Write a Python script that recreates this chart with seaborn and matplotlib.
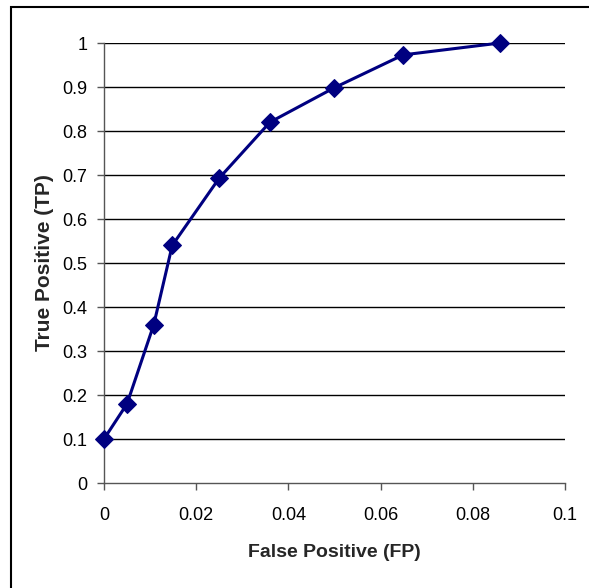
import pandas as pd
import numpy as np
import matplotlib
matplotlib.use("Agg")
import matplotlib.pyplot as plt
from matplotlib.patches import Rectangle
import seaborn as sns

# ROC points
false_pos = [0.0, 0.005, 0.0108, 0.0148, 0.025, 0.036, 0.0499, 0.0649, 0.0859]
true_pos = [0.10, 0.18, 0.36, 0.54, 0.693, 0.82, 0.898, 0.973, 1.0]
x_ticks = [0, 0.02, 0.04, 0.06, 0.08, 0.1]
y_ticks = [0, 0.1, 0.2, 0.3, 0.4, 0.5, 0.6, 0.7, 0.8, 0.9, 1]

df = pd.DataFrame({"fp": false_pos, "tp": true_pos})

sns.set_style("white")
plt.rcParams["font.family"] = ["Liberation Sans", "DejaVu Sans"]

fig = plt.figure(figsize=(5.89, 5.88), dpi=100)
ax = fig.add_axes([104 / 589, 105 / 588, 461 / 589, 440 / 588])

# outer frame (right/bottom edges fall outside the picture)
fig.patches.append(Rectangle((10.5 / 589, -0.1), 1.2, (588 - 7.5) / 588 + 0.1,
                             transform=fig.transFigure, fill=False,
                             edgecolor="black", linewidth=1.5))

for y in y_ticks[1:]:
    ax.axhline(y, color="black", linewidth=1, zorder=1)

sns.lineplot(data=df, x="fp", y="tp", ax=ax, color="#000080", linewidth=2.2,
             marker="D", markersize=9.5, markeredgecolor="#000080", zorder=3,
             clip_on=False)

ax.set_xlim(0, 0.1)
ax.set_ylim(0, 1)
ax.set_xticks(x_ticks)
ax.set_xticklabels(["0", "0.02", "0.04", "0.06", "0.08", "0.1"])
ax.set_yticks(y_ticks)
ax.set_yticklabels(["0", "0.1", "0.2", "0.3", "0.4", "0.5", "0.6", "0.7", "0.8", "0.9", "1"])
ax.tick_params(axis="both", direction="out", length=5, width=1, color="#555555",
               labelsize=13, colors="black", bottom=True, left=True)
ax.tick_params(axis="x", pad=12)
ax.tick_params(axis="y", pad=7)

for side in ["top", "right"]:
    ax.spines[side].set_visible(False)
for side in ["left", "bottom"]:
    ax.spines[side].set_color("#555555")
    ax.spines[side].set_linewidth(1)

ax.set_xlabel("False Positive (FP)", fontsize=14, fontweight="bold", labelpad=15)
ax.set_ylabel("True Positive (TP)", fontsize=15, fontweight="bold", labelpad=6)

fig.savefig("out.png", dpi=100)
